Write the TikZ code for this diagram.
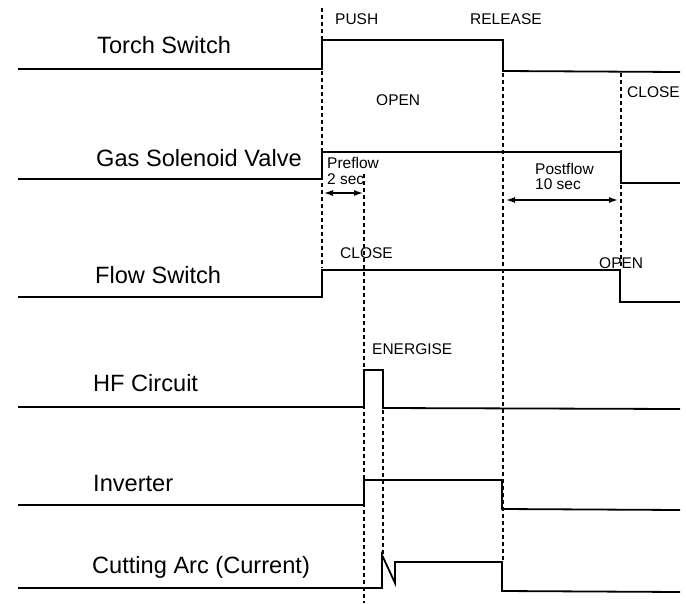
\documentclass[tikz,border=0pt]{standalone}
\usepackage{fontspec}
\setmainfont{Liberation Sans}
\usetikzlibrary{arrows.meta}
\begin{document}
\begin{tikzpicture}[x=1pt,y=-1pt,
  signal/.style={line width=1.8pt,line join=miter},
  guide/.style={line width=1.4pt,dash pattern=on 4pt off 3pt},
  biglabel/.style={anchor=base west,inner sep=0pt,font=\fontsize{23.6}{28}\selectfont},
  smalllabel/.style={anchor=base west,inner sep=0pt,font=\fontsize{15.5}{18}\selectfont,align=left},
  span/.style={line width=1.4pt,{Latex[length=9pt,width=6pt]}-{Latex[length=9pt,width=6pt]}}]
\useasboundingbox (0,0) rectangle (686,603);
% signal names
\node[biglabel] (ts) at (97,53) {Torch Switch};
\node[biglabel] (gv) at (96,166) {Gas Solenoid Valve};
\node[biglabel] (fs) at (95,283) {Flow Switch};
\node[biglabel] (hf) at (93,391) {HF Circuit};
\node[biglabel] (iv) at (93,491) {Inverter};
\node[biglabel] (ca) at (92,573) {Cutting Arc (Current)};
% event labels
\node[smalllabel] (push) at (335,24) {PUSH};
\node[smalllabel] (rel) at (470,24) {RELEASE};
\node[smalllabel] (open1) at (376,105) {OPEN};
\node[smalllabel] (close1) at (627,97) {CLOSE};
\node[smalllabel] (pre1) at (327,168) {Preflow};
\node[smalllabel] (pre2) at (327,184) {2 sec};
\node[smalllabel] (post1) at (535,174) {Postflow};
\node[smalllabel] (post2) at (535,189) {10 sec};
\node[smalllabel] (close2) at (340,258) {CLOSE};
\node[smalllabel] (open2) at (599,268) {OPEN};
\node[smalllabel] (ener) at (372,354) {ENERGISE};
% dashed guides
\draw[guide] (322,8) -- (322,268);
\draw[guide] (364,174) -- (364,603);
\draw[guide] (503,73) -- (503,562);
\draw[guide] (621,73) -- (621,268);
\draw[guide] (383,410) -- (383,555);
% signals
\draw[signal] (18,69) -- (322,69) -- (322,40) -- (503,40) -- (503,71) -- (680,72);
\draw[signal] (18,179) -- (322,179) -- (322,152) -- (621,152) -- (621,183) -- (680,183);
\draw[signal] (18,297) -- (322,297) -- (322,270) -- (620,270) -- (620,302) -- (680,302);
\draw[signal] (18,407) -- (364,407) -- (364,370) -- (383,370) -- (383,408) -- (680,409);
\draw[signal] (18,505) -- (364,505) -- (364,480) -- (502,480) -- (502,509) -- (680,510);
\draw[signal] (18,588) -- (382,588) -- (382,555) -- (395,583) -- (395,562) -- (502,562) -- (502,591) -- (680,592);
% durations
\coordinate (pa) at (324,193);
\coordinate (pb) at (363,193);
\coordinate (qa) at (506,200);
\coordinate (qb) at (618,200);
\draw[span] (pa) -- (pb);
\draw[span] (qa) -- (qb);
\end{tikzpicture}
\end{document}
